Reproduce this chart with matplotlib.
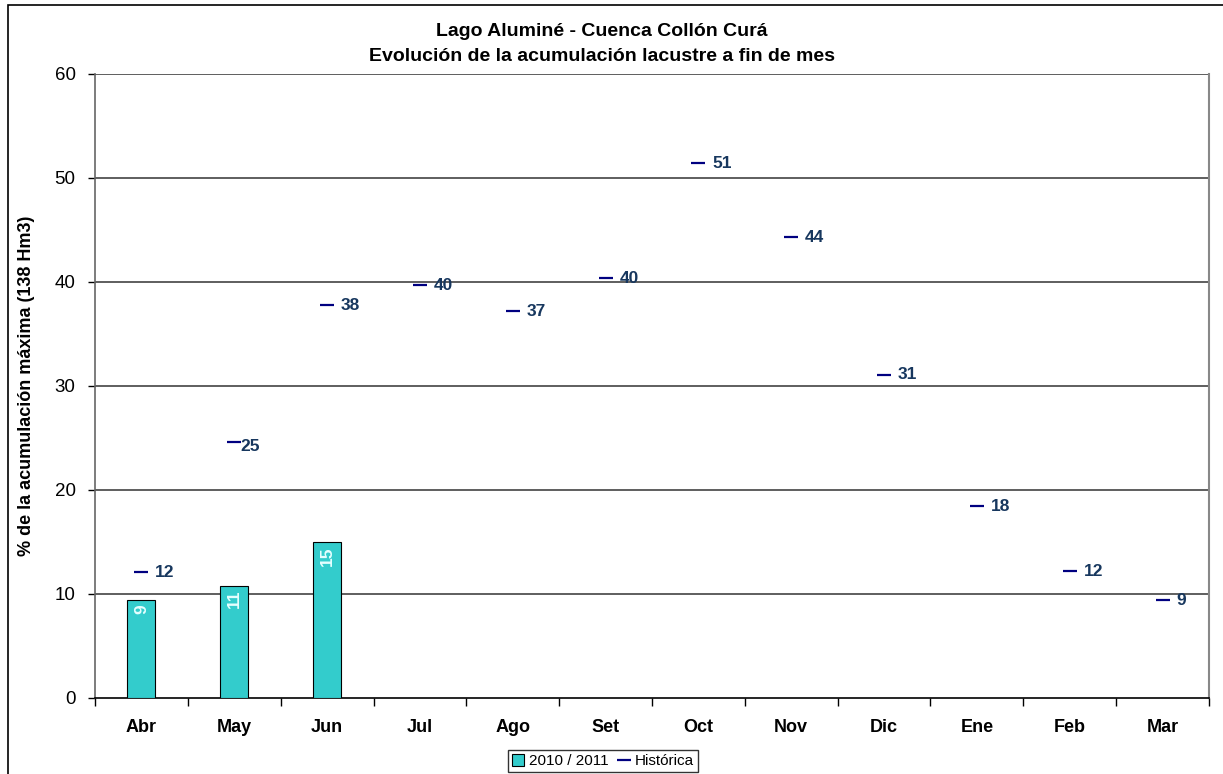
import matplotlib
matplotlib.use("Agg")
import matplotlib.pyplot as plt
from matplotlib.patches import Rectangle
import numpy as np

plt.rcParams['font.family'] = ['Liberation Sans', 'DejaVu Sans']

months = ["Abr", "May", "Jun", "Jul", "Ago", "Set", "Oct", "Nov", "Dic", "Ene", "Feb", "Mar"]
season_values = [9.4, 10.8, 15.0]          # 2010 / 2011
historic_values = [12.1, 24.6, 37.8, 39.7, 37.2, 40.4, 51.4, 44.3, 31.1, 18.45, 12.2, 9.4]
yticks = [0, 10, 20, 30, 40, 50, 60]

title = "Lago Aluminé - Cuenca Collón Curá\nEvolución de la acumulación lacustre a fin de mes"
ylabel = "% de la acumulación máxima (138 Hm3)"

W, H = 1223, 774
fig = plt.figure(figsize=(W / 100, H / 100), dpi=100)
ax = fig.add_axes([95 / W, 1 - 698 / H, (1209 - 95) / W, (698 - 74) / H])

x = np.arange(len(months))
bars = ax.bar(x[:len(season_values)], season_values, width=0.3, color='#33CCCC',
              edgecolor='black', linewidth=0.8, zorder=3, label='2010 / 2011')
for xi, v in zip(x, season_values):
    ax.annotate(f"{round(v):d}", (xi, v), xytext=(0, -3), textcoords='offset points',
                rotation=90, ha='center', va='top',
                color='#E6FFFF', fontsize=12.5, fontweight='bold', zorder=4)

hist_line, = ax.plot(x, historic_values, linestyle='none', marker='_', markersize=10,
                     markeredgewidth=1.6, color='#000080', zorder=4, label='Histórica')
for i, (xi, v) in enumerate(zip(x, historic_values)):
    dx, dy = (10, -0.3) if i != 1 else (4.5, -3)
    ax.annotate(f"{round(v):d}", (xi, v), xytext=(dx, dy), textcoords='offset points',
                ha='left', va='center', color='#17375E', fontsize=12.5,
                fontweight='bold', zorder=5)

ax.set_xlim(-0.5, len(months) - 0.5)
ax.set_ylim(0, 60)
ax.set_yticks(yticks)
ax.set_yticklabels([str(t) for t in yticks], fontsize=13.5)
ax.set_xticks(x)
ax.set_xticklabels(months, fontsize=13, fontweight='bold')
ax.set_xticks(np.arange(-0.5, len(months), 1), minor=True)
ax.tick_params(axis='x', which='major', length=0, pad=15)
ax.tick_params(axis='x', which='minor', length=6, width=1, color='black', direction='out')
ax.tick_params(axis='y', length=5, width=1, direction='out', pad=9)

for yv in yticks[1:]:
    ax.axhline(yv, color='#333333', linewidth=1.1, zorder=1)

ax.spines['top'].set_visible(False)
ax.spines['right'].set_color('#888888')
ax.spines['right'].set_linewidth(1.5)
ax.spines['left'].set_color('#666666')
ax.spines['left'].set_linewidth(1.2)
ax.spines['bottom'].set_color('black')
ax.spines['bottom'].set_linewidth(1.2)

ax.set_ylabel(ylabel, fontsize=13, fontweight='bold')
ax.yaxis.set_label_coords(-(95 - 35) / (1209 - 95), 0.5)

fig.text(602 / W, 1 - 44 / H, title, ha='center', va='center', fontsize=14,
         fontweight='bold', linespacing=1.55)

leg = fig.legend(handles=[bars, hist_line], labels=['2010 / 2011', 'Histórica'],
                 loc='center', bbox_to_anchor=(603 / W, 1 - 761 / H), ncol=2,
                 fontsize=11, frameon=True, fancybox=False, edgecolor='black',
                 handlelength=0.8, handleheight=0.8, handletextpad=0.3, columnspacing=0.6,
                 borderpad=0.25, borderaxespad=0)
leg.get_frame().set_linewidth(1.0)

fig.patches.append(Rectangle((8 / W, -0.05), 1.2, 1.05 - 5 / H, transform=fig.transFigure,
                             fill=False, edgecolor='black', linewidth=1.2))

fig.savefig("out.png", dpi=100)
